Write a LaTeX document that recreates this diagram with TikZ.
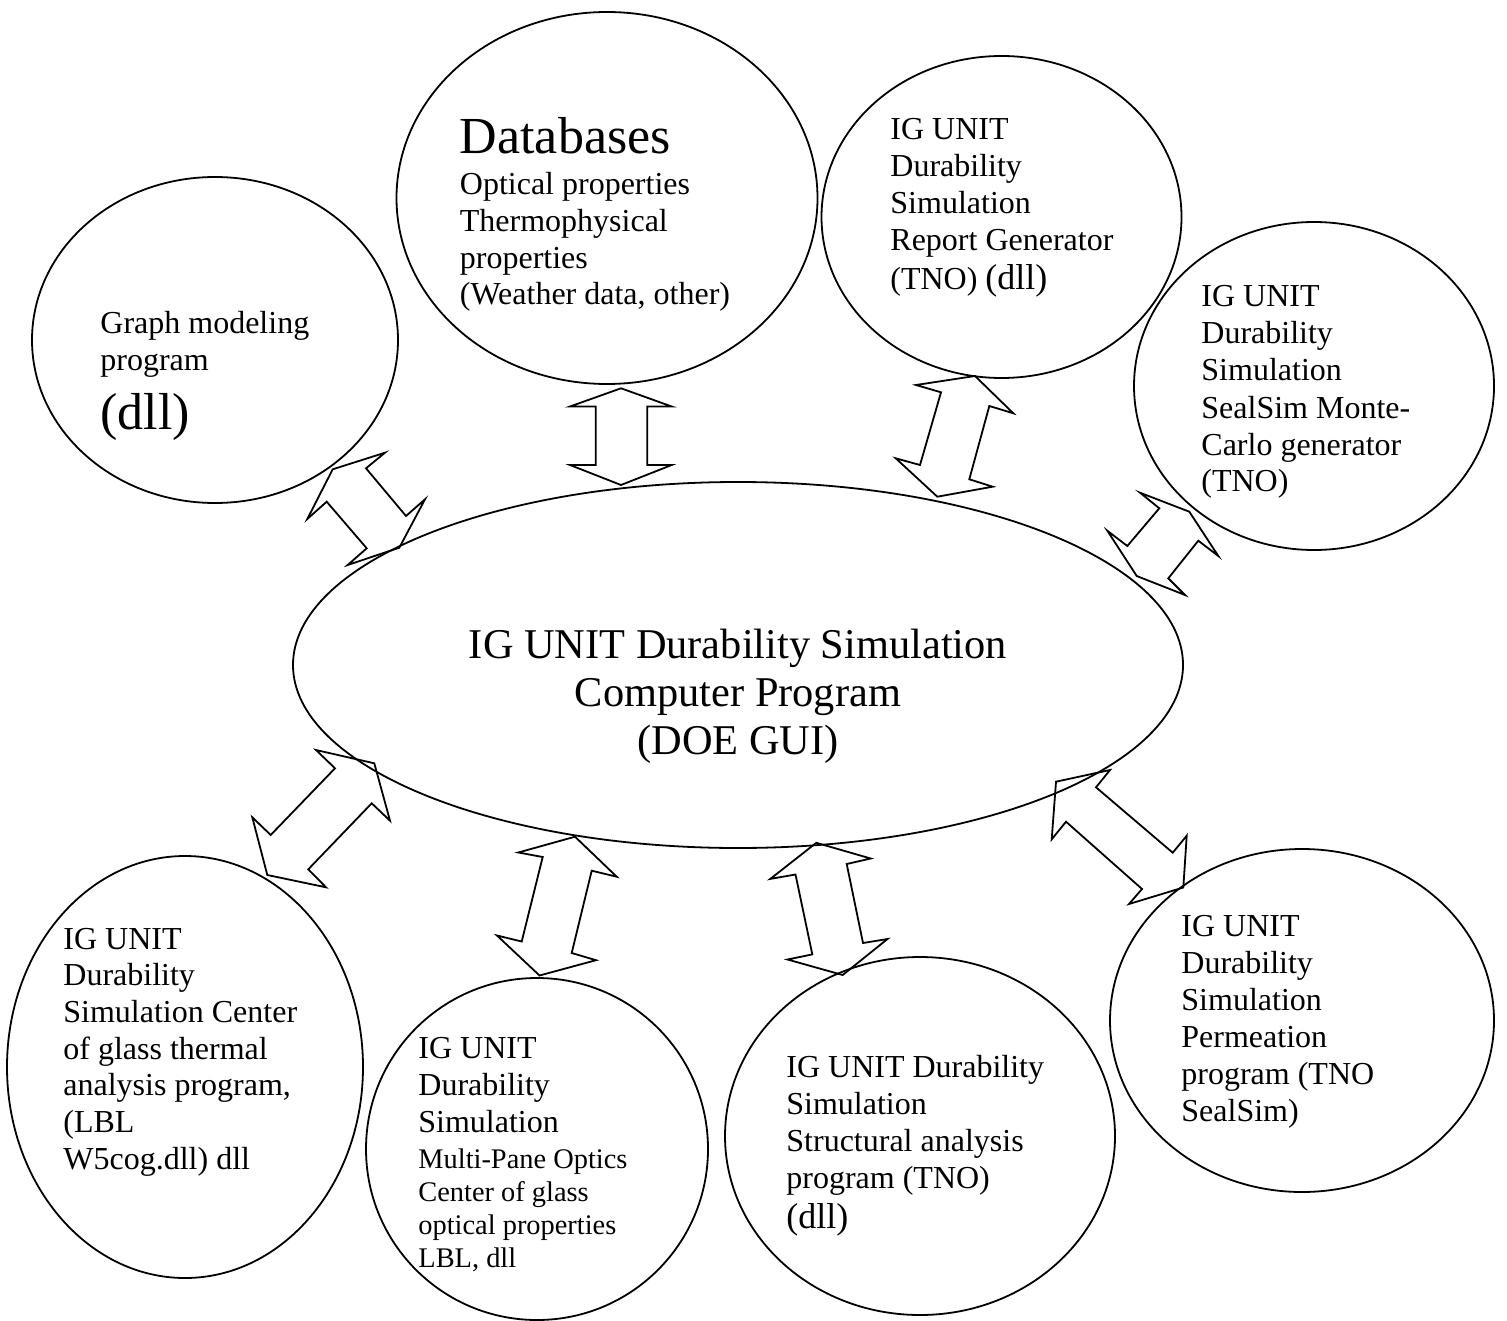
\documentclass[tikz,border=0pt]{standalone}
\usepackage{fontspec}
\setmainfont{Liberation Serif}
\usetikzlibrary{shapes.geometric}

% one line of a left-aligned text block
\newcommand\txtrow[1]{\hbox{#1}}
% switch the spacing used for the next row of a block
\newcommand\gap[1]{\baselineskip=#1\relax}

\tikzset{
  bubble/.style={draw, line width=0.9pt, ellipse, inner sep=0pt, outer sep=0pt},
  blockarrow/.style={draw, line width=0.9pt, line join=miter},
  label/.style={anchor=base west, inner sep=0pt, font=\fontsize{16}{18.5}\selectfont},
  hublabel/.style={anchor=base, inner sep=0pt, font=\fontsize{21.2}{24}\selectfont},
}

\begin{document}
\begin{tikzpicture}[x=0.5pt,y=-0.5pt]
\useasboundingbox (0,0) rectangle (1507,1320);

% ---- modules ----
\node[bubble, minimum width=183pt, minimum height=163pt] (graph) at (215,340) {};
\node[bubble, minimum width=210.5pt, minimum height=186pt] (db) at (607,198) {};
\node[bubble, minimum width=180pt, minimum height=161pt] (report) at (1001.5,217) {};
\node[bubble, minimum width=180pt, minimum height=164pt] (montecarlo) at (1314,386) {};
\node[bubble, minimum width=445pt, minimum height=183pt] (hub) at (738,665) {};
\node[bubble, minimum width=178pt, minimum height=211pt] (thermal) at (185,1067) {};
\node[bubble, minimum width=171pt, minimum height=171pt] (optics) at (537,1149) {};
\node[bubble, minimum width=195pt, minimum height=179pt] (structural) at (920,1136) {};
\node[bubble, minimum width=192pt, minimum height=171.5pt] (permeation) at (1302,1020.5) {};

% ---- texts ----
\node[hublabel] (hubT) at (738,658) {\vtop{\gap{24pt}%
  \hbox to 300pt{\hss IG UNIT Durability Simulation\hss}%
  \hbox to 300pt{\hss Computer Program\hss}%
  \hbox to 300pt{\hss (DOE GUI)\hss}}};

\node[label] (graphT) at (100,334) {\vtop{%
  \txtrow{Graph modeling}\txtrow{program}%
  \gap{29.5pt}\txtrow{\fontsize{26}{30}\selectfont (dll)}}};

\node[label] (dbT) at (459.5,153.6) {\vtop{%
  \txtrow{\fontsize{26}{30}\selectfont Databases}%
  \gap{20.5pt}\txtrow{Optical properties}%
  \gap{18.4pt}\txtrow{Thermophysical}\txtrow{properties}\txtrow{(Weather data, other)}}};

\node[label] (reportT) at (890,140) {\vtop{%
  \txtrow{IG UNIT}\txtrow{Durability}\txtrow{Simulation}\txtrow{Report Generator}%
  \gap{19.5pt}\txtrow{(TNO) {\fontsize{18}{21}\selectfont (dll)}}}};

\node[label] (montecarloT) at (1201,307) {\vtop{%
  \txtrow{IG UNIT}\txtrow{Durability}\txtrow{Simulation}\txtrow{SealSim Monte-}%
  \txtrow{Carlo generator}\txtrow{(TNO)}}};

\node[label] (thermalT) at (63,949) {\vtop{\gap{18.35pt}%
  \txtrow{IG UNIT}\txtrow{Durability}\txtrow{Simulation Center}\txtrow{of glass thermal}%
  \txtrow{analysis program,}\txtrow{(LBL}\txtrow{W5cog.dll) dll}}};

\node[label] (opticsT) at (418,1058) {\vtop{%
  \txtrow{IG UNIT}\txtrow{Durability}\txtrow{Simulation}%
  \gap{18pt}\txtrow{\fontsize{14.2}{16.5}\selectfont Multi-Pane Optics}%
  \gap{16.5pt}\txtrow{\fontsize{14.2}{16.5}\selectfont Center of glass}%
  \txtrow{\fontsize{14.2}{16.5}\selectfont optical properties}%
  \txtrow{\fontsize{14.2}{16.5}\selectfont LBL, dll}}};

\node[label] (structuralT) at (786,1077) {\vtop{%
  \txtrow{IG UNIT Durability}\txtrow{Simulation}\txtrow{Structural analysis}\txtrow{program (TNO)}%
  \gap{20pt}\txtrow{\fontsize{18}{21}\selectfont (dll)}}};

\node[label] (permeationT) at (1181,936) {\vtop{%
  \txtrow{IG UNIT}\txtrow{Durability}\txtrow{Simulation}\txtrow{Permeation}%
  \txtrow{program (TNO}\txtrow{SealSim)}}};

% ---- double-headed block arrows between the hub and each module ----
% graph <-> hub
\draw[blockarrow] (385,452.7) -- (332.7,469.3) -- (307.3,519) -- (326.7,501.7) -- (366.7,548.3)
  -- (347.7,565) -- (399.3,547.7) -- (425,499.3) -- (406,516) -- (366,468.3) -- cycle;
% databases <-> hub
\draw[blockarrow] (621,388.3) -- (671.7,406.5) -- (647.3,406.5) -- (647.3,465) -- (671.7,465)
  -- (621,485) -- (570,465) -- (595.7,465) -- (595.7,406.5) -- (570,406.5) -- cycle;
% report <-> hub
\draw[blockarrow] (975,376) -- (916,385) -- (941,392.3) -- (920,465) -- (895.7,458.3)
  -- (937.3,496.7) -- (992.7,486.7) -- (969.3,479.3) -- (989.3,406) -- (1013.3,413.3) -- cycle;
% monte-carlo <-> hub
\draw[blockarrow] (1140,492.7) -- (1159.3,508.3) -- (1127.3,546) -- (1107.3,530.7) -- (1136.7,576)
  -- (1185,595) -- (1168.3,578.3) -- (1198.3,540.7) -- (1218.3,556) -- (1189.3,511.7) -- cycle;
% thermal <-> hub
\draw[blockarrow] (316,750) -- (335,768.3) -- (270.7,835) -- (252.3,817.3) -- (267.3,875)
  -- (326,887.3) -- (308.3,869.3) -- (371.7,803.3) -- (390,820.7) -- (374.3,763.3) -- cycle;
% optics <-> hub
\draw[blockarrow] (575,836.7) -- (616.7,876.7) -- (591.7,870.7) -- (571.7,953) -- (596,960.2)
  -- (539.5,975.5) -- (497,935.5) -- (521.7,941.5) -- (542.7,857) -- (518.3,852.5) -- cycle;
% structural <-> hub
\draw[blockarrow] (816.3,842.8) -- (870.7,858.5) -- (846.7,864) -- (863,943) -- (887.5,939)
  -- (842.7,975) -- (787.5,959.5) -- (812.3,954.4) -- (795.5,874.5) -- (770.3,878.9) -- cycle;
% permeation <-> hub
\draw[blockarrow] (1056,781.7) -- (1110,770) -- (1096,787.3) -- (1172.7,852.7) -- (1186.7,835.7)
  -- (1183.3,887.5) -- (1129,904) -- (1142,889) -- (1066,821.7) -- (1051.7,839.3) -- cycle;

\end{tikzpicture}
\end{document}
